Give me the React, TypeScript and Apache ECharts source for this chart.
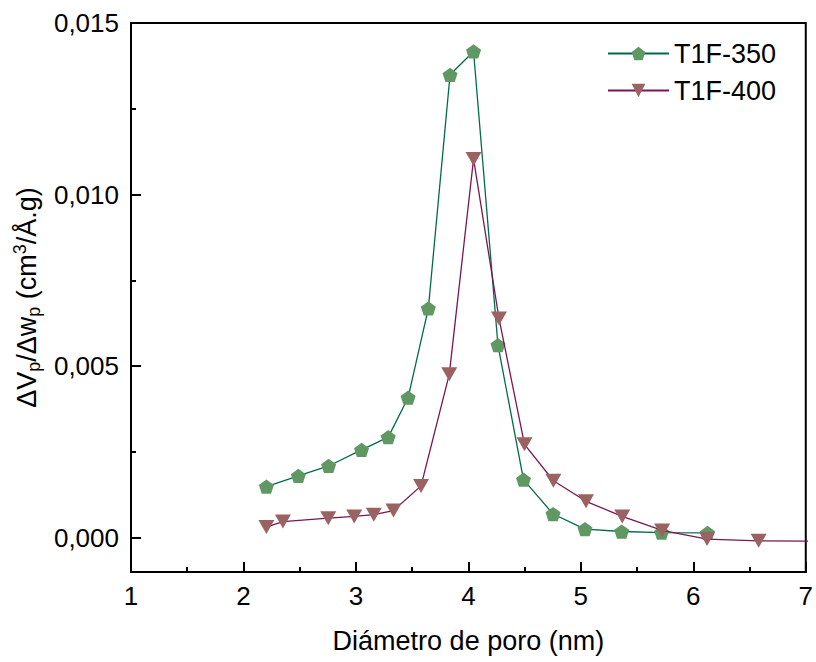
import React, { useEffect, useRef } from 'react';
import * as echarts from 'echarts';

const seriesNames = ['T1F-350', 'T1F-400'];
const t1f350X = [2.204, 2.488, 2.757, 3.05, 3.287, 3.464, 3.644, 3.837, 4.046, 4.263, 4.49, 4.753, 5.037, 5.363, 5.718, 6.126];
const t1f350Y = [0.00149, 0.0018, 0.00209, 0.00256, 0.00293, 0.00408, 0.00668, 0.01349, 0.01417, 0.00561, 0.00169, 0.00069, 0.00025, 0.00018, 0.00015, 0.00014];
const t1f400X = [2.204, 2.351, 2.754, 2.985, 3.159, 3.334, 3.579, 3.83, 4.046, 4.272, 4.499, 4.756, 5.046, 5.368, 5.723, 6.122, 6.581, 7.15];
const t1f400Y = [0.00031, 0.00047, 0.00057, 0.00062, 0.00067, 0.00079, 0.00151, 0.00476, 0.01104, 0.00639, 0.00272, 0.00166, 0.00106, 0.00062, 0.00021, -0.00004, -0.00009, -0.0001];
const yMajorTicks = [0, 0.005, 0.01, 0.015];
const yMinorTicks = [0.0025, 0.0075, 0.0125];

const PENTAGON = 'path://M50,0 L97.55,34.55 L79.39,90.45 L20.61,90.45 L2.45,34.55 Z';
const FONT = '"Liberation Sans", Arial, sans-serif';

export default function App() {
  const ref = useRef<HTMLDivElement>(null);
  useEffect(() => {
    document.body.style.margin = '0';
    const chart = echarts.init(ref.current!, null, { renderer: 'svg' });
    const fmt = (v: number) => v.toFixed(3).replace('.', ',');
    chart.setOption({
      animation: false,
      textStyle: { fontFamily: FONT, color: '#000' },
      grid: {
        left: 131, right: 9, top: 23, bottom: 90,
        show: true, borderColor: '#000', borderWidth: 2,
      },
      legend: {
        left: 602, top: 33, orient: 'vertical',
        itemWidth: 61, itemHeight: 17, itemGap: 6,
        textStyle: { fontSize: 27, color: '#000', fontFamily: FONT, lineHeight: 31 },
        data: seriesNames,
      },
      xAxis: {
        type: 'value', min: 1, max: 7, interval: 1,
        name: 'Diámetro de poro (nm)', nameLocation: 'middle', nameGap: 55,
        nameTextStyle: { fontSize: 27, color: '#000', fontFamily: FONT },
        axisLine: { onZero: false, lineStyle: { color: '#000', width: 2 } },
        axisTick: { inside: true, length: 10, lineStyle: { color: '#000', width: 2 } },
        minorTick: { show: true, splitNumber: 2, length: 5, lineStyle: { color: '#000', width: 2 } },
        axisLabel: { fontSize: 26, color: '#000', margin: 11, fontFamily: FONT },
        splitLine: { show: false },
      },
      yAxis: [
        {
          type: 'value', min: -0.001, max: 0.015,
          name: '{m|ΔV}{s|p}{m|/Δw}{s|p}{m| (cm}{u|3}{m|/Å.g)}',
          nameLocation: 'middle', nameGap: 86,
          nameTextStyle: {
            fontSize: 27, color: '#000', fontFamily: FONT,
            rich: {
              m: { fontSize: 27, lineHeight: 32, fontFamily: FONT, color: '#000', verticalAlign: 'middle' },
              s: { fontSize: 18, lineHeight: 14, fontFamily: FONT, color: '#000', verticalAlign: 'bottom' },
              u: { fontSize: 18, lineHeight: 14, fontFamily: FONT, color: '#000', verticalAlign: 'top' },
            },
          },
          axisLine: { show: true, onZero: false, lineStyle: { color: '#000', width: 2 } },
          axisTick: { inside: true, length: 10, customValues: yMajorTicks, lineStyle: { color: '#000', width: 2 } },
          axisLabel: { fontSize: 26, color: '#000', margin: 12, customValues: yMajorTicks, formatter: fmt, fontFamily: FONT },
          splitLine: { show: false },
        },
        {
          type: 'value', min: -0.001, max: 0.015, position: 'left',
          axisLine: { show: false, onZero: false },
          axisTick: { show: true, inside: true, length: 5, customValues: yMinorTicks, lineStyle: { color: '#000', width: 2 } },
          axisLabel: { show: false },
          splitLine: { show: false },
        },
      ],
      series: [
        {
          name: seriesNames[0], type: 'line', yAxisIndex: 0,
          data: t1f350X.map((x, i) => [x, t1f350Y[i]]),
          symbol: PENTAGON, symbolSize: 15, symbolKeepAspect: true,
          itemStyle: { color: '#5F9863' },
          lineStyle: { color: '#006B47', width: 1.3 },
          z: 3,
        },
        {
          name: seriesNames[1], type: 'line', yAxisIndex: 0,
          data: t1f400X.map((x, i) => [x, t1f400Y[i]]),
          symbol: 'triangle', symbolSize: [16, 14], symbolRotate: 180,
          itemStyle: { color: '#9A6361' },
          lineStyle: { color: '#7B1650', width: 1.3 },
          z: 4,
        },
      ],
    });
    return () => chart.dispose();
  }, []);
  return <div ref={ref} style={{ width: 816, height: 662 }} />;
}
